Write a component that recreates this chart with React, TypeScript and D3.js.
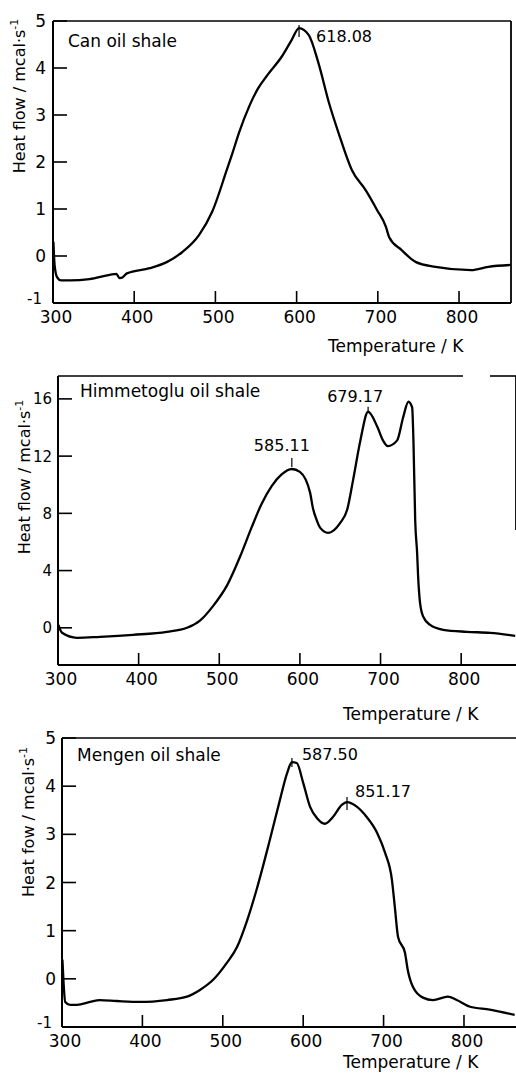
import React from "react";
import * as d3 from "d3";

// ---------- data ----------
const canTemp = [300.5, 302, 305, 310, 321, 345, 370, 378, 382, 386, 391, 419, 440, 459, 480, 496, 514, 521, 529, 542, 552, 564, 582, 594, 603, 615, 627, 640, 652, 668, 685, 699, 710, 714, 729, 747, 771, 815, 836, 864];
const canFlow = [0.3, -0.2, -0.45, -0.52, -0.52, -0.49, -0.4, -0.38, -0.47, -0.45, -0.37, -0.26, -0.13, 0.08, 0.45, 0.94, 1.83, 2.19, 2.62, 3.2, 3.55, 3.85, 4.25, 4.6, 4.85, 4.7, 4.1, 3.25, 2.6, 1.83, 1.4, 0.98, 0.62, 0.4, 0.13, -0.13, -0.23, -0.3, -0.23, -0.19];

const himTemp = [300.5, 305, 323.6, 352, 393, 435, 460, 476, 492, 510, 526, 540, 552, 565, 577, 590, 600, 612.7, 616, 621, 625, 635, 650, 658.6, 666, 675, 684.6, 696, 703, 709, 720.6, 728, 734.6, 739.2, 740.8, 743, 745.4, 746.6, 749, 753, 761.5, 777.7, 807, 836, 867];
const himFlow = [0.2, -0.35, -0.7, -0.63, -0.49, -0.28, 0, 0.5, 1.5, 3.0, 5.0, 7.0, 8.6, 9.9, 10.7, 11.1, 10.9, 9.43, 8.4, 7.5, 7.0, 6.64, 7.34, 8.25, 10.34, 13.1, 15.1, 14.05, 13.1, 12.7, 13.1, 14.7, 15.8, 15.4, 13.1, 7.5, 5.2, 3.6, 1.75, 0.77, 0.2, -0.14, -0.28, -0.35, -0.56];

const menTemp = [300.5, 302, 304, 310, 318.7, 335, 347, 368, 397, 430.6, 455.5, 471.6, 488, 505, 517.7, 530, 542, 558, 571, 580, 586, 592, 600, 608.6, 617, 627, 637, 648, 654.5, 667, 679, 692, 702, 710.4, 714, 718, 726.6, 730, 736.6, 749, 761.4, 780, 791, 807.5, 832, 863];
const menFlow = [0.4, -0.1, -0.48, -0.54, -0.54, -0.48, -0.44, -0.46, -0.48, -0.44, -0.37, -0.23, -0.02, 0.33, 0.66, 1.2, 1.85, 2.85, 3.71, 4.27, 4.5, 4.48, 4.07, 3.57, 3.34, 3.22, 3.36, 3.61, 3.67, 3.57, 3.36, 3.03, 2.61, 2.05, 1.49, 0.87, 0.54, 0.19, -0.17, -0.39, -0.44, -0.37, -0.44, -0.58, -0.64, -0.75];

const xTickValues = [300, 400, 500, 600, 700, 800];
const canYTicks = [-1, 0, 1, 2, 3, 4, 5];
const himYTicks = [0, 4, 8, 12, 16];
const menYTicks = [-1, 0, 1, 2, 3, 4, 5];

const canPeakT = [603];
const canPeakV = [4.85];
const canPeakLabels = ["618.08"];
const himPeakT = [590, 684.6];
const himPeakV = [11.1, 15.1];
const himPeakLabels = ["585.11", "679.17"];
const menPeakT = [586, 654.5];
const menPeakV = [4.5, 3.67];
const menPeakLabels = ["587.50", "851.17"];

const panelTitles = ["Can oil shale", "Himmetoglu oil shale", "Mengen oil shale"];
const yTitles = ["Heat flow / mcal·s", "Heat flow / mcal·s", "Heat fow / mcal·s"];
const xTitle = "Temperature / K";

const FONT = "'DejaVu Sans', sans-serif";

type PeakStyle = { dx: number; dy: number; anchor: string; m0: number; m1: number };

type PanelCfg = {
  temp: number[];
  flow: number[];
  yTicks: number[];
  peakT: number[];
  peakV: number[];
  peakLabels: string[];
  peakStyles: PeakStyle[];
  title: string;
  yTitle: string;
  left: number;
  right: number;
  top: number;
  bottom: number;
  xDom: [number, number];
  yDom: [number, number];
  titlePos: [number, number];
  yTitlePos: [number, number];
  xTitlePos: [number, number];
  labelGap: number;
  yTickFont: number;
  topSegs: [number, number][];
  rightSeg: [number, number] | null;
};

const panels: PanelCfg[] = [
  {
    temp: canTemp, flow: canFlow, yTicks: canYTicks,
    peakT: canPeakT, peakV: canPeakV, peakLabels: canPeakLabels,
    peakStyles: [{ dx: 17, dy: 14, anchor: "start", m0: -3, m1: 9 }],
    title: panelTitles[0], yTitle: yTitles[0],
    left: 53, right: 511, top: 21, bottom: 303,
    xDom: [300, 864], yDom: [-1, 5],
    titlePos: [68, 47], yTitlePos: [25, 96], xTitlePos: [328, 352],
    labelGap: 7, yTickFont: 17,
    topSegs: [[53, 511]], rightSeg: [21, 303],
  },
  {
    temp: himTemp, flow: himFlow, yTicks: himYTicks,
    peakT: himPeakT, peakV: himPeakV, peakLabels: himPeakLabels,
    peakStyles: [
      { dx: -10, dy: -18, anchor: "middle", m0: -11, m1: -2 },
      { dx: -13, dy: -10, anchor: "middle", m0: -5, m1: 1 },
    ],
    title: panelTitles[1], yTitle: yTitles[1],
    left: 58, right: 516, top: 376, bottom: 665,
    xDom: [300, 868], yDom: [-2.6, 17.6],
    titlePos: [80, 397], yTitlePos: [30, 477], xTitlePos: [343, 720],
    labelGap: 6, yTickFont: 15,
    topSegs: [[58, 463], [490, 516]], rightSeg: [376, 530],
  },
  {
    temp: menTemp, flow: menFlow, yTicks: menYTicks,
    peakT: menPeakT, peakV: menPeakV, peakLabels: menPeakLabels,
    peakStyles: [
      { dx: 10, dy: -2, anchor: "start", m0: -4, m1: 5 },
      { dx: 8, dy: -5, anchor: "start", m0: -5, m1: 8 },
    ],
    title: panelTitles[2], yTitle: yTitles[2],
    left: 62, right: 516, top: 738, bottom: 1027,
    xDom: [300, 864.7], yDom: [-1, 5],
    titlePos: [77, 761], yTitlePos: [34, 822], xTitlePos: [343, 1068],
    labelGap: 6, yTickFont: 17,
    topSegs: [[62, 516]], rightSeg: null,
  },
];

function Panel({ cfg }: { cfg: PanelCfg }) {
  const x = d3.scaleLinear().domain(cfg.xDom).range([cfg.left, cfg.right]);
  const y = d3.scaleLinear().domain(cfg.yDom).range([cfg.bottom, cfg.top]);
  const pts: [number, number][] = cfg.temp.map((t, i) => [t, cfg.flow[i]]);
  const line = d3
    .line<[number, number]>()
    .x((d) => x(d[0]))
    .y((d) => y(d[1]))
    .curve(d3.curveMonotoneX);
  const axisW = 2;
  return (
    <g fontFamily={FONT} fill="#000">
      {/* frame */}
      <line x1={cfg.left} x2={cfg.left} y1={cfg.top} y2={cfg.bottom} stroke="#000" strokeWidth={axisW} />
      <line x1={cfg.left} x2={cfg.right} y1={cfg.bottom} y2={cfg.bottom} stroke="#000" strokeWidth={axisW} />
      {cfg.topSegs.map((s, i) => (
        <line key={"ts" + i} x1={s[0]} x2={s[1]} y1={cfg.top} y2={cfg.top} stroke="#000" strokeWidth={1.6} />
      ))}
      {cfg.rightSeg && (
        <line x1={cfg.right} x2={cfg.right} y1={cfg.rightSeg[0]} y2={cfg.rightSeg[1]} stroke="#000" strokeWidth={1.8} />
      )}
      {/* y ticks */}
      {cfg.yTicks.map((v) => {
        const atBottom = y(v) >= cfg.bottom - 1;
        return (
          <g key={"y" + v}>
            <line x1={cfg.left} x2={cfg.left + 14} y1={y(v)} y2={y(v)} stroke="#000" strokeWidth={1.6} />
            <text
              x={cfg.left - cfg.labelGap - (atBottom ? 4 : 0)}
              y={y(v)}
              dy={atBottom ? "0.05em" : "0.36em"}
              textAnchor="end"
              fontSize={atBottom ? cfg.yTickFont - 2 : cfg.yTickFont}
            >
              {v}
            </text>
          </g>
        );
      })}
      {/* x ticks */}
      {xTickValues.map((t) => (
        <g key={"x" + t}>
          {t > cfg.xDom[0] && (
            <line x1={x(t)} x2={x(t)} y1={cfg.bottom} y2={cfg.bottom - 12} stroke="#000" strokeWidth={1.6} />
          )}
          <text x={x(t) + 3} y={cfg.bottom + 20} textAnchor="middle" fontSize={17}>
            {t}
          </text>
        </g>
      ))}
      {/* curve */}
      <path d={line(pts) || ""} fill="none" stroke="#000" strokeWidth={2.3} strokeLinejoin="round" />
      {/* peaks */}
      {cfg.peakT.map((t, i) => {
        const px = x(t);
        const py = y(cfg.peakV[i]);
        const st = cfg.peakStyles[i];
        return (
          <g key={"p" + i}>
            <line x1={px} x2={px} y1={py + st.m0} y2={py + st.m1} stroke="#000" strokeWidth={1.2} />
            <text x={px + st.dx} y={py + st.dy} textAnchor={st.anchor} fontSize={16}>
              {cfg.peakLabels[i]}
            </text>
          </g>
        );
      })}
      {/* titles */}
      <text x={cfg.titlePos[0]} y={cfg.titlePos[1]} fontSize={17}>
        {cfg.title}
      </text>
      <text
        transform={`translate(${cfg.yTitlePos[0]},${cfg.yTitlePos[1]}) rotate(-90)`}
        textAnchor="middle"
        fontSize={16}
      >
        {cfg.yTitle}
        <tspan dy={-7} fontSize={11}>-1</tspan>
      </text>
      <text x={cfg.xTitlePos[0]} y={cfg.xTitlePos[1]} fontSize={17}>
        {xTitle}
      </text>
    </g>
  );
}

export default function App() {
  return (
    <svg
      width={516}
      height={1073}
      viewBox="0 0 516 1073"
      style={{ position: "absolute", left: 0, top: 0, background: "#fff" }}
    >
      <rect x={0} y={0} width={516} height={1073} fill="#fff" />
      {panels.map((p, i) => (
        <Panel key={i} cfg={p} />
      ))}
    </svg>
  );
}
